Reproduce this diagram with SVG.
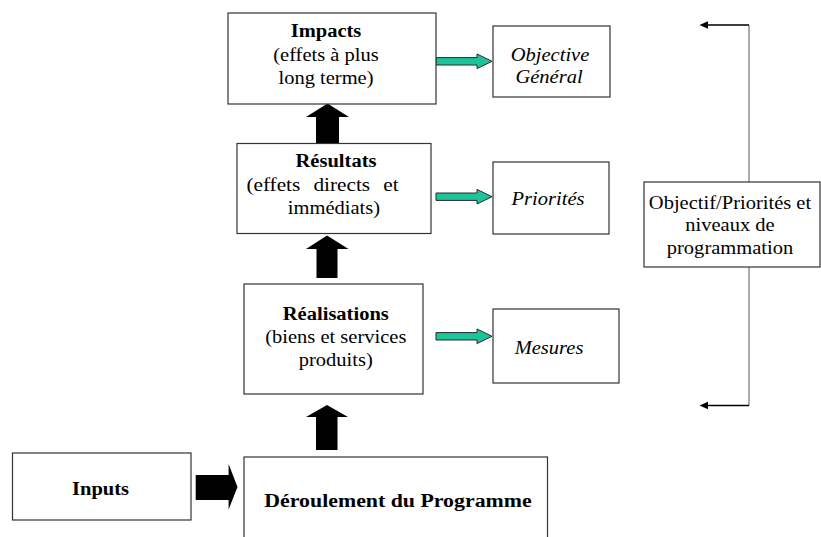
<svg xmlns="http://www.w3.org/2000/svg" width="821" height="537" viewBox="0 0 821 537">
<style>
.box{fill:#fff;stroke:#333;stroke-width:1.2}
.t{font-family:"Liberation Serif","Times New Roman",serif;font-size:19px;fill:#000;text-anchor:middle}
.b{font-weight:bold}
.i{font-style:italic}
.blk{fill:#000}
.grn{fill:#1cc499;stroke:#2a2a2a;stroke-width:1}
.vline{stroke:#808080;stroke-width:1.3;fill:none}
.hline{stroke:#000;stroke-width:1.6;fill:none}
</style>
<rect width="821" height="537" fill="#fff"/>
<g id="connectors">
<path class="blk" d="M327.5,103.5 L349,117 L339,117 L339,143.5 L316,143.5 L316,117 L306,117 Z"/>
<path class="blk" d="M327,235.5 L348.5,249 L337.5,249 L337.5,278 L316.5,278 L316.5,249 L306,249 Z"/>
<path class="blk" d="M327,405 L348,417 L337.5,417 L337.5,450 L316,450 L316,417 L306,417 Z"/>
<path class="blk" d="M195.7,475 L228.6,475 L228.6,464 L237.5,487 L228.6,509.5 L228.6,500 L195.7,500 Z"/>
<path class="grn" d="M436,57.6 L477,57.6 L477,54 L492,61.3 L477,68.6 L477,65 L436,65 Z"/>
<path class="grn" d="M436,193 L477,193 L477,189.4 L492,196.7 L477,204 L477,200.4 L436,200.4 Z"/>
<path class="grn" d="M436,332.6 L477,332.6 L477,329 L492,336.3 L477,343.6 L477,340 L436,340 Z"/>
<path class="vline" d="M749,25 L749,182 M749,267 L749,405.5"/>
<path class="hline" d="M749,25 L706,25 M749,405.5 L706,405.5"/>
<path class="blk" d="M699.5,25 L708,21.3 L708,28.7 Z"/>
<path class="blk" d="M699.5,405.5 L708,401.8 L708,409.2 Z"/>
</g>
<g id="impacts">
<rect class="box" x="228" y="13" width="208" height="91"/>
<text class="t b" transform="translate(326,37) scale(1.08,1)">Impacts</text>
<text class="t" transform="translate(326,60.5) scale(1.08,1)">(effets à plus</text>
<text class="t" transform="translate(326,83.5) scale(1.08,1)">long terme)</text>
</g>
<g id="resultats">
<rect class="box" x="237" y="143.5" width="194" height="90"/>
<text class="t b" transform="translate(336,167) scale(1.08,1)">Résultats</text>
<text class="t" transform="translate(322.5,191) scale(1.12,1)" word-spacing="7">(effets directs et</text>
<text class="t" transform="translate(334,213.5) scale(1.08,1)">immédiats)</text>
</g>
<g id="realisations">
<rect class="box" x="244" y="284" width="179" height="110"/>
<text class="t b" transform="translate(335.8,320) scale(1.08,1)">Réalisations</text>
<text class="t" transform="translate(335.8,343.3) scale(1.08,1)">(biens et services</text>
<text class="t" transform="translate(335.8,365.5) scale(1.08,1)">produits)</text>
</g>
<g id="objective">
<rect class="box" x="493" y="26" width="117" height="71"/>
<text class="t i" transform="translate(550,60.5) scale(1.08,1)">Objective</text>
<text class="t i" transform="translate(549,83) scale(1.08,1)">Général</text>
</g>
<g id="priorites">
<rect class="box" x="493" y="162" width="116" height="72"/>
<text class="t i" transform="translate(548,205) scale(1.08,1)">Priorités</text>
</g>
<g id="mesures">
<rect class="box" x="493" y="309" width="126" height="74"/>
<text class="t i" transform="translate(549,354) scale(1.08,1)">Mesures</text>
</g>
<g id="objectif">
<rect class="box" x="644" y="182" width="176" height="85"/>
<text class="t" transform="translate(730,208.5) scale(1.08,1)">Objectif/Priorités et</text>
<text class="t" transform="translate(730,231) scale(1.08,1)">niveaux de</text>
<text class="t" transform="translate(730,253.5) scale(1.08,1)">programmation</text>
</g>
<g id="inputs">
<rect class="box" x="12.5" y="453" width="178.5" height="67"/>
<text class="t b" transform="translate(100.5,494.5) scale(1.08,1)">Inputs</text>
</g>
<g id="deroulement">
<rect class="box" x="244" y="457" width="303.5" height="100"/>
<text class="t b" transform="translate(398,507) scale(1.15,1)">Déroulement du Programme</text>
</g>
</svg>
